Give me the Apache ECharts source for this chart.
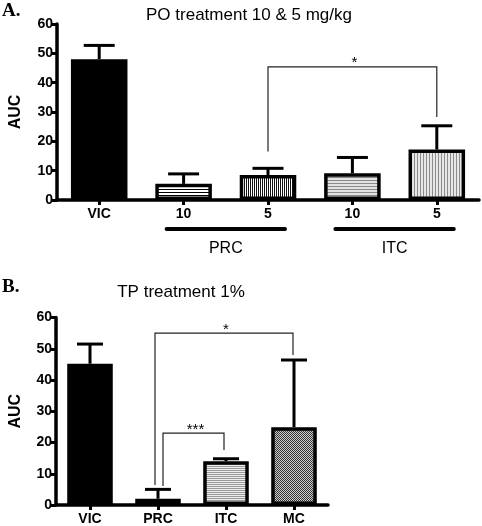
<!DOCTYPE html>
<html>
<head>
<meta charset="utf-8">
<script src="https://cdn.jsdelivr.net/npm/echarts@6/dist/echarts.min.js"></script>
<style>
html,body{margin:0;padding:0;background:#fff;}
#c{width:482px;height:526px;}
</style>
</head>
<body>
<div id="c"></div>
<script>
// ---- Data: panel A (PO treatment 10 & 5 mg/kg)
const catsA = ['VIC', '10', '5', '10', '5'];
const meanA = [48.0, 5.5, 8.5, 9.1, 17.2];
const semA  = [4.7, 3.4, 2.3, 5.4, 8.1];
const groupNamesA = ['PRC', 'ITC'];
const groupStartA = [1, 3];
const groupEndA   = [2, 4];
const bracketFromA = [2];
const bracketToA   = [4];
const bracketTopA  = [45.4];
const bracketLeftEndA  = [16.5];
const bracketRightEndA = [28.3];
const bracketLabelA = ['*'];

// ---- Data: panel B (TP treatment 1%)
const catsB = ['VIC', 'PRC', 'ITC', 'MC'];
const meanB = [45.2, 2.0, 14.0, 24.9];
const semB  = [6.3, 3.0, 0.8, 21.5];
const bracketFromB = [1, 1];
const bracketToB   = [3, 2];
const bracketTopB  = [55.0, 23.0];
const bracketLeftEndB  = [6.4, 6.1];
const bracketRightEndB = [48.0, 17.6];
const bracketLabelB = ['*', '***'];

const yTicks = [0, 10, 20, 30, 40, 50, 60];

// ---- patterns
function pat(w, h, draw) {
  const c = document.createElement('canvas');
  c.width = w; c.height = h;
  const g = c.getContext('2d');
  g.fillStyle = '#fff'; g.fillRect(0, 0, w, h);
  draw(g);
  return { image: c, repeat: 'repeat' };
}
const hBlack = pat(4, 3, g => { g.fillStyle = '#000'; g.fillRect(0, 0, 4, 1); });
const vBlack = pat(2, 4, g => { g.fillStyle = '#111'; g.fillRect(0, 0, 1, 4); });
const hGrey = pat(4, 3, g => { g.fillStyle = '#e2e2e2'; g.fillRect(0, 0, 4, 3); g.fillStyle = '#8a8a8a'; g.fillRect(0, 0, 4, 1); });
const vGrey = pat(3, 4, g => { g.fillStyle = '#e6e6e6'; g.fillRect(0, 0, 3, 4); g.fillStyle = '#8c8c8c'; g.fillRect(0, 0, 1, 4); });
const hGrey2 = pat(4, 2, g => { g.fillStyle = '#eeeeee'; g.fillRect(0, 0, 4, 2); g.fillStyle = '#9a9a9a'; g.fillRect(0, 0, 4, 1); });
const checker = pat(2, 2, g => { g.fillStyle = '#cfcfcf'; g.fillRect(0, 0, 2, 2); g.fillStyle = '#333'; g.fillRect(0, 0, 1, 1); g.fillRect(1, 1, 1, 1); });

const fillsA = ['#000', hBlack, vBlack, hGrey, vGrey];
const fillsB = ['#000', hGrey2, hGrey2, checker];

const FONT = 'Liberation Sans, Arial, sans-serif';
const chart = echarts.init(document.getElementById('c'), null, { renderer: 'canvas' });

function yAxisCfg(gridIndex, gap) {
  return {
    type: 'value', gridIndex, min: 0, max: 60, interval: 10,
    name: 'AUC', nameLocation: 'middle', nameRotate: 90, nameGap: gap,
    nameTextStyle: { fontFamily: FONT, fontWeight: 'bold', fontSize: 16, color: '#000' },
    axisLine: { show: true, lineStyle: { color: '#000', width: 3.5 } },
    axisTick: { show: true, length: 5, lineStyle: { color: '#000', width: 3 } },
    axisLabel: { fontFamily: FONT, fontWeight: 'bold', fontSize: 14, color: '#000', margin: 4 },
    splitLine: { show: false }
  };
}
function xAxisCfg(gridIndex, data) {
  return {
    type: 'category', gridIndex, data,
    axisLine: { show: true, lineStyle: { color: '#000', width: 3.5 } },
    axisTick: { show: true, alignWithLabel: true, length: 5, lineStyle: { color: '#000', width: 3 } },
    axisLabel: { fontFamily: FONT, fontWeight: 'bold', fontSize: 14, color: '#000', margin: 7 },
    splitLine: { show: false }
  };
}

function barSeries(idx, means, fills, width) {
  return {
    type: 'bar', xAxisIndex: idx, yAxisIndex: idx, barWidth: width,
    data: means.map((v, i) => ({ value: v, itemStyle: { color: fills[i] } })),
    itemStyle: { borderColor: '#000', borderWidth: 3.5 },
    emphasis: { disabled: true }, z: 2
  };
}

function errSeries(idx, means, sems, cap) {
  return {
    type: 'custom', xAxisIndex: idx, yAxisIndex: idx, z: 3, silent: true,
    data: means.map((m, i) => [i, m, m + sems[i]]),
    encode: { x: 0, y: [1, 2] },
    renderItem: (params, api) => {
      const p0 = api.coord([api.value(0), api.value(1)]);
      const p1 = api.coord([api.value(0), api.value(2)]);
      return {
        type: 'group', children: [
          { type: 'line', shape: { x1: p0[0], y1: p0[1], x2: p1[0], y2: p1[1] }, style: { stroke: '#000', lineWidth: 3 } },
          { type: 'line', shape: { x1: p1[0] - cap / 2, y1: p1[1], x2: p1[0] + cap / 2, y2: p1[1] }, style: { stroke: '#000', lineWidth: 3 } }
        ]
      };
    }
  };
}

function bracketSeries(idx, from, to, top, lEnd, rEnd, labels, legOffsets) {
  return {
    type: 'custom', xAxisIndex: idx, yAxisIndex: idx, z: 4, silent: true,
    data: from.map((f, i) => [f, to[i], top[i], lEnd[i], rEnd[i]]),
    encode: { x: [0, 1], y: [2, 3, 4] },
    renderItem: (params, api) => {
      const i = params.dataIndex;
      const off = legOffsets[i];
      const a = api.coord([api.value(0), api.value(2)]);
      const b = api.coord([api.value(1), api.value(2)]);
      const la = api.coord([api.value(0), api.value(3)]);
      const rb = api.coord([api.value(1), api.value(4)]);
      const xl = a[0] + off[0], xr = b[0] + off[1];
      return {
        type: 'group', children: [
          { type: 'polyline', shape: { points: [[xl, la[1]], [xl, a[1]], [xr, a[1]], [xr, rb[1]]] },
            style: { stroke: '#222', lineWidth: 1.2, fill: null } },
          { type: 'text', x: (xl + xr) / 2 + 2, y: a[1] + 4,
            style: { text: labels[i], fill: '#000', font: '15px ' + FONT, textAlign: 'center', textVerticalAlign: 'bottom' } }
        ]
      };
    }
  };
}

const groupSeries = {
  type: 'custom', xAxisIndex: 0, yAxisIndex: 0, z: 5, silent: true,
  data: groupStartA.map((s, i) => [s, groupEndA[i], 0]),
  encode: { x: [0, 1], y: 2 },
  renderItem: (params, api) => {
    const i = params.dataIndex;
    const a = api.coord([api.value(0), 0]);
    const b = api.coord([api.value(1), 0]);
    const x1 = a[0] - 17, x2 = b[0] + 17, y = a[1] + 29;
    return {
      type: 'group', children: [
        { type: 'line', shape: { x1, y1: y, x2, y2: y }, style: { stroke: '#000', lineWidth: 4, lineCap: 'round' } },
        { type: 'text', x: (x1 + x2) / 2, y: y + 20,
          style: { text: groupNamesA[i], fill: '#000', font: '16px ' + FONT, textAlign: 'center', textVerticalAlign: 'middle' } }
      ]
    };
  }
};

chart.setOption({
  animation: false,
  backgroundColor: '#fff',
  grid: [
    { left: 49, top: 24, width: 430, height: 176 },
    { left: 47, top: 317.5, width: 281, height: 187.5 }
  ],
  xAxis: [xAxisCfg(0, catsA), xAxisCfg(1, catsB)],
  yAxis: [yAxisCfg(0, 33), yAxisCfg(1, 32)],
  graphic: [
    { type: 'text', left: 2, top: 2, style: { text: 'A.', font: 'bold 19px Liberation Serif, Times New Roman, serif', fill: '#000' } },
    { type: 'text', left: 2, top: 278, style: { text: 'B.', font: 'bold 19px Liberation Serif, Times New Roman, serif', fill: '#000' } },
    { type: 'text', x: 249, y: 15, style: { text: 'PO treatment 10 & 5 mg/kg', font: '17px ' + FONT, fill: '#000', textAlign: 'center', textVerticalAlign: 'middle' } },
    { type: 'text', x: 181, y: 292, style: { text: 'TP treatment 1%', font: '17px ' + FONT, fill: '#000', textAlign: 'center', textVerticalAlign: 'middle' } }
  ],
  series: [
    barSeries(0, meanA, fillsA, '67%'),
    errSeries(0, meanA, semA, 31),
    bracketSeries(0, bracketFromA, bracketToA, bracketTopA, bracketLeftEndA, bracketRightEndA, bracketLabelA, [[0, 0]]),
    groupSeries,
    barSeries(1, meanB, fillsB, '67%'),
    errSeries(1, meanB, semB, 26),
    bracketSeries(1, bracketFromB, bracketToB, bracketTopB, bracketLeftEndB, bracketRightEndB, bracketLabelB, [[-3, -1], [5, -2]])
  ]
});
</script>
</body>
</html>
